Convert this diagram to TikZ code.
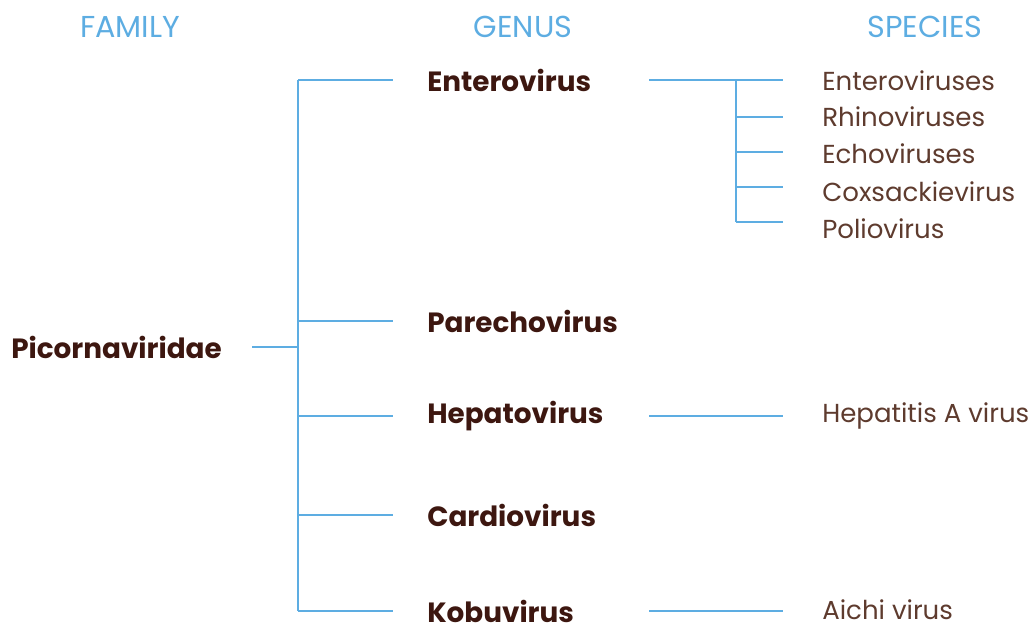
\documentclass[tikz,border=0pt]{standalone}
\usepackage{fontspec}
\setmainfont{Poppins}
\usetikzlibrary{positioning}
\definecolor{branch}{HTML}{5DADE2}
\definecolor{genus}{HTML}{3D1710}
\definecolor{spec}{HTML}{5E3B2E}
\newcommand{\hdsize}{\fontsize{21.5}{24}\selectfont}
\newcommand{\gnsize}{\fontsize{19.8}{24}\selectfont}
\newcommand{\spsize}{\fontsize{18.5}{22}\selectfont}

\begin{document}
\begin{tikzpicture}[x=0.025cm,y=-0.025cm,
  head/.style={text=branch,font=\hdsize},
  gen/.style={anchor=west,inner sep=0pt,text=genus,font=\gnsize\bfseries},
  spc/.style={anchor=west,inner sep=0pt,text=spec,font=\spsize},
  link/.style={draw=branch,line width=1.8pt}]
  \useasboundingbox (0,0) rectangle (1031,623);
  % column heads
  \node[head] (hfam) at (130,27) {FAMILY};
  \node[head] (hgen) at (523,27) {GENUS};
  \node[head] (hspc) at (925,27) {SPECIES};
  % family
  \node[gen] (picorna) at (11,347) {Picornaviridae};
  \coordinate (fam-out) at (252,347);
  \coordinate (fam-bar) at (298,347);
  % genera
  \node[gen] (entero) at (427,80) {Enterovirus};
  \node[gen] (parecho) at (427,321) {Parechovirus};
  \node[gen] (hepato) at (427,416) {Hepatovirus};
  \node[gen] (cardio) at (427,515) {Cardiovirus};
  \node[gen] (kobu) at (427,611) {Kobuvirus};
  \foreach \g in {entero,parecho,hepato,cardio,kobu} {
    \coordinate (\g-in) at (298,0 |- \g.west);
    \coordinate (\g-tip) at (393,0 |- \g.west);
    \coordinate (\g-out) at (649,0 |- \g.west);
  }
  \draw[link] (fam-out) -- (fam-bar);
  \draw[link] (entero-in) -- (kobu-in);
  \foreach \g in {entero,parecho,hepato,cardio,kobu}
    \draw[link] (\g-in) -- (\g-tip);
  % species
  \node[spc] (s1) at (822,81) {Enteroviruses};
  \node[spc] (s2) at (822,117) {Rhinoviruses};
  \node[spc] (s3) at (822,154) {Echoviruses};
  \node[spc] (s4) at (822,192) {Coxsackievirus};
  \node[spc] (s5) at (822,229) {Poliovirus};
  \node[spc] (hav) at (822,416) {Hepatitis A virus};
  \node[spc] (aichi) at (822,610) {Aichi virus};
  \coordinate (ent-bar) at (736,80);
  \coordinate (ent-end) at (736,222);
  \coordinate (ent-tip) at (783,80);
  \draw[link] (entero-out) -- (ent-tip);
  \draw[link] (ent-bar) -- (ent-end);
  \foreach \y in {117,152,187,222}
    \draw[link] (736,\y) -- (783,\y);
  \draw[link] (hepato-out) -- (783,0 |- hepato-out);
  \draw[link] (kobu-out) -- (783,0 |- kobu-out);
\end{tikzpicture}
\end{document}
